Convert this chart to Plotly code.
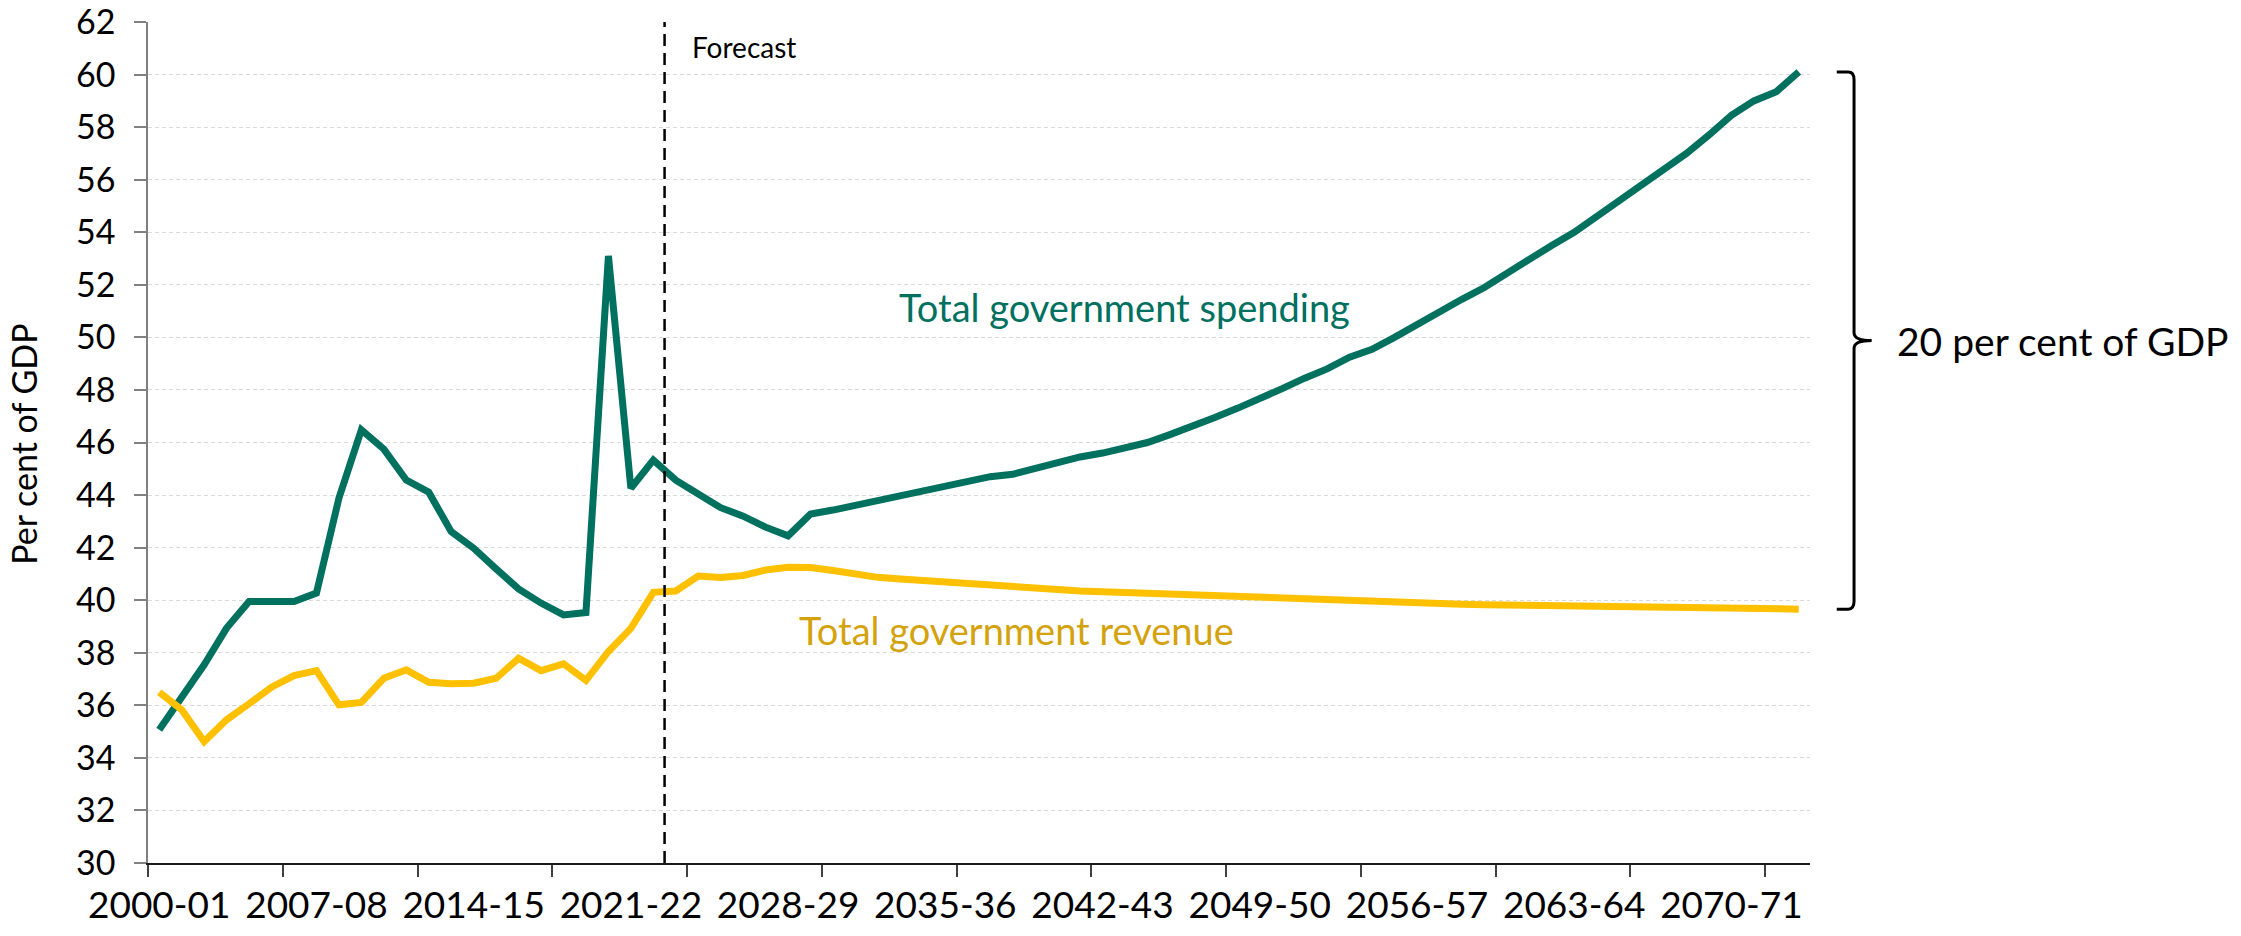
import plotly.graph_objects as go

# Fiscal years 2000-01 .. 2073-74
years = [f"{y}-{str(y + 1)[-2:]}" for y in range(2000, 2074)]

spending = [
    35.07, 36.30, 37.54, 38.94, 39.95, 39.95, 39.95, 40.27, 43.88, 46.48,
    45.75, 44.57, 44.11, 42.61, 41.98, 41.19, 40.43, 39.89, 39.44, 39.53,
    53.10, 44.26, 45.33, 44.57, 44.07, 43.52, 43.20, 42.78, 42.45, 43.28,
    43.43, 43.62, 43.81, 44.00, 44.19, 44.36, 44.54, 44.70, 44.79, 45.02,
    45.27, 45.45, 45.60, 45.80, 46.00, 46.30, 46.60, 46.95, 47.30, 47.65,
    48.05, 48.45, 48.80, 49.25, 49.55, 50.00, 50.50, 50.95, 51.45, 51.90,
    52.45, 53.00, 53.50, 54.00, 54.60, 55.20, 55.80, 56.45, 57.00, 57.70,
    58.45, 59.00, 59.35, 60.10,
]

revenue = [
    36.50, 35.83, 34.62, 35.45, 36.06, 36.69, 37.13, 37.32, 36.02, 36.11,
    37.03, 37.35, 36.88, 36.82, 36.84, 37.03, 37.79, 37.32, 37.58, 36.95,
    38.05, 38.93, 40.30, 40.35, 40.92, 40.86, 40.94, 41.15, 41.25, 41.24,
    41.13, 41.00, 40.87, 40.81, 40.75, 40.67, 40.61, 40.56, 40.52, 40.47,
    40.39, 40.35, 40.32, 40.29, 40.26, 40.23, 40.20, 40.17, 40.12, 40.08,
    40.03, 40.00, 39.98, 39.95, 39.92, 39.90, 39.88, 39.86, 39.85, 39.83,
    39.82, 39.80, 39.79, 39.78, 39.77, 39.76, 39.74, 39.73, 39.72, 39.71,
    39.70, 39.68, 39.67, 39.66,
]

y_ticks = list(range(30, 63, 2))
label_step = 7
tick_step = 6
forecast_start = "2023-24"

x = list(range(len(years)))
label_vals = x[::label_step]
label_text = years[::label_step]
boundary_ticks = [i - 0.5 for i in range(0, len(years), tick_step)]
forecast_x = years.index(forecast_start) - 0.5

TEAL = "#00705F"
GOLD = "#FFC000"
GOLD_TEXT = "#D4A20C"
FONT = "Lato, 'Open Sans', sans-serif"

fig = go.Figure()
fig.add_trace(go.Scatter(
    x=x, y=spending, mode="lines", name="Total government spending",
    line=dict(color=TEAL, width=7), hoverinfo="skip",
))
fig.add_trace(go.Scatter(
    x=x, y=revenue, mode="lines", name="Total government revenue",
    line=dict(color=GOLD, width=7), hoverinfo="skip",
))

# forecast divider
fig.add_shape(type="line", xref="x", yref="paper", x0=forecast_x, x1=forecast_x,
              y0=0, y1=1, line=dict(color="black", width=2.5, dash="12px,7px"))

# brace spanning the gap between the final spending and revenue values
y_top, y_bot = spending[-1], revenue[-1]
y_mid = (y_top + y_bot) / 2
xh, xv, xm = 1.0161, 1.0265, 1.0371
rx, ry = 0.0035, 0.3
brace = (
    f"M {xh},{y_top} L {xv - rx},{y_top} Q {xv},{y_top} {xv},{y_top - ry} "
    f"L {xv},{y_mid + ry} Q {xv},{y_mid} {xm},{y_mid} "
    f"Q {xv},{y_mid} {xv},{y_mid - ry} "
    f"L {xv},{y_bot + ry} Q {xv},{y_bot} {xv - rx},{y_bot} L {xh},{y_bot}"
)
fig.add_shape(type="path", xref="paper", yref="y", path=brace,
              line=dict(color="black", width=3))

fig.add_annotation(xref="paper", yref="y", x=1.051, y=y_mid, text="20 per cent of GDP",
                   showarrow=False, xanchor="left", yanchor="middle",
                   font=dict(family=FONT, size=39, color="black"))

fig.add_annotation(xref="x", yref="y", x=forecast_x, y=61.04, text="Forecast",
                   showarrow=False, xanchor="left", yanchor="middle", xshift=25,
                   font=dict(family=FONT, size=28, color="black"))

fig.add_annotation(xref="x", yref="y", x=32.84, y=51.15, text="Total government spending",
                   showarrow=False, xanchor="left", yanchor="middle",
                   font=dict(family=FONT, size=38, color=TEAL))

fig.add_annotation(xref="x", yref="y", x=28.39, y=38.87, text="Total government revenue",
                   showarrow=False, xanchor="left", yanchor="middle",
                   font=dict(family=FONT, size=38, color=GOLD_TEXT))

fig.add_annotation(xref="paper", yref="paper", x=-0.0886, y=0.4976, text="Per cent of GDP",
                   showarrow=False, textangle=-90, xanchor="left", yanchor="middle",
                   font=dict(family=FONT, size=34, color="black"))

fig.update_layout(
    width=2241, height=936, autosize=False,
    margin=dict(l=148, r=431, t=22, b=73),
    paper_bgcolor="white", plot_bgcolor="white",
    showlegend=False,
    font=dict(family=FONT, color="black"),
)

fig.update_xaxes(
    range=[-0.5, len(years) - 0.5], automargin=False,
    tickmode="array", tickvals=label_vals, ticktext=label_text,
    ticks="", showgrid=False, zeroline=False,
    showline=True, linecolor="#1a1a1a", linewidth=1.5,
    ticklabelstandoff=9,
    tickfont=dict(family=FONT, size=37, color="black"),
    minor=dict(tickmode="array", tickvals=boundary_ticks, ticks="outside",
               ticklen=12, tickwidth=1.5, tickcolor="#404040", showgrid=False),
)

fig.update_yaxes(
    range=[30, 62.002], automargin=False,
    tickmode="array", tickvals=y_ticks, ticktext=[str(v) for v in y_ticks],
    ticks="outside", ticklen=12, tickwidth=1.5, tickcolor="#808080",
    showline=True, linecolor="#808080", linewidth=1.5,
    showgrid=True, gridcolor="#D9D9D9", gridwidth=1, griddash="4px,3px",
    zeroline=False, ticklabelstandoff=12, ticklabeloverflow="allow",
    tickfont=dict(family=FONT, size=34, color="black"),
)

fig.write_html("out.html")
